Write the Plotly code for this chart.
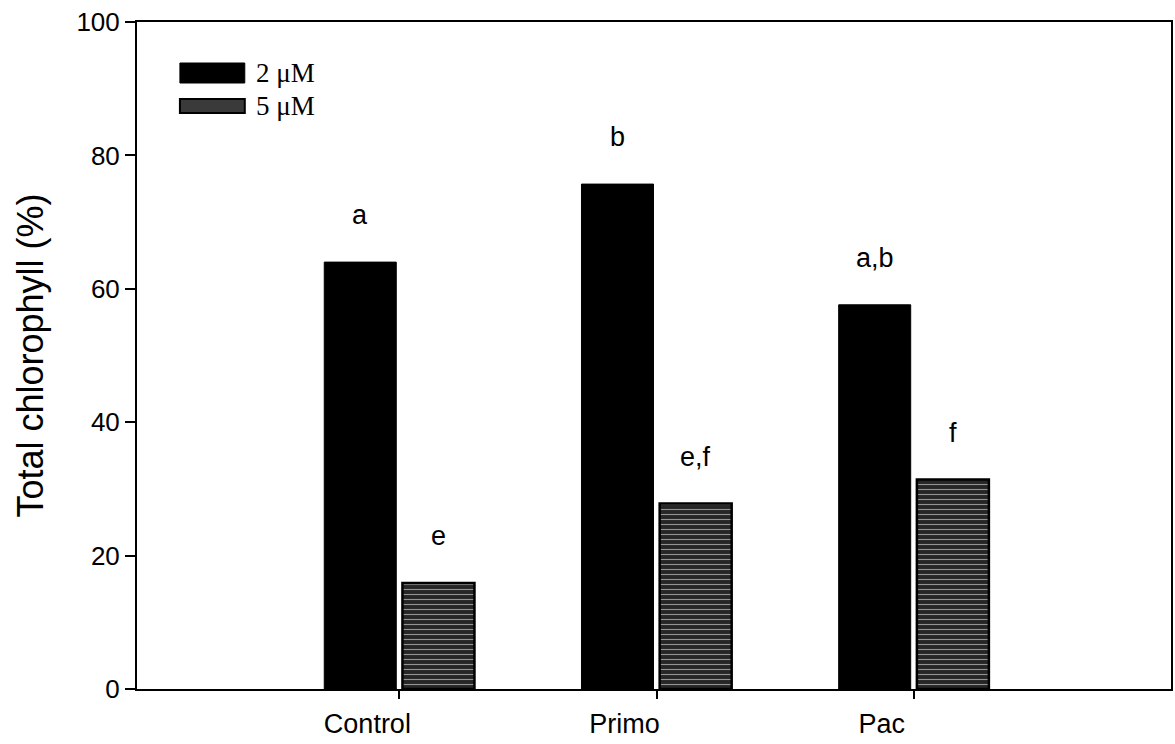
import plotly.graph_objects as go

categories = ["Control", "Primo", "Pac"]
cat_pos = [1, 2, 3]
series_names = ["2 \u03bcM", "5 \u03bcM"]
values_2uM = [64.0, 75.7, 57.6]
values_5uM = [15.9, 27.8, 31.4]
letters_2uM = ["a", "b", "a,b"]
letters_5uM = ["e", "e,f", "f"]
y_ticks = [0, 20, 40, 60, 80, 100]

W, H = 1175, 744
ML, MR, MT, MB = 137, 2, 22, 55
PW, PH = W - ML - MR, H - MT - MB


def px_x(px):
    return (px - ML) / PW


def px_y(py):
    return (H - MB - py) / PH


BAR_W = 0.28
GAP = 0.012
PATTERN = dict(shape="-", fgcolor="white", size=5, solidity=0.22, fillmode="overlay")

fig = go.Figure()
fig.add_trace(go.Bar(
    x=cat_pos, y=values_2uM, name=series_names[0],
    width=BAR_W, offset=-BAR_W - GAP,
    marker=dict(color="black", line=dict(color="black", width=1)),
))
fig.add_trace(go.Bar(
    x=cat_pos, y=values_5uM, name=series_names[1],
    width=BAR_W, offset=GAP,
    marker=dict(color="#262626", line=dict(color="black", width=2.5), pattern=PATTERN),
))

ann_font = dict(family="Liberation Sans, Arial, sans-serif", size=27, color="black")
for ys, labs, off in [(values_2uM, letters_2uM, -BAR_W / 2 - GAP),
                      (values_5uM, letters_5uM, BAR_W / 2 + GAP)]:
    for x, y, t in zip(cat_pos, ys, labs):
        fig.add_annotation(x=x + off, y=y, text=t, showarrow=False,
                           yanchor="bottom", yshift=30, font=ann_font)

# legend drawn as paper-space key
leg_font = dict(family="Liberation Serif, Times New Roman, serif", size=27, color="black")
leg_items = [
    (series_names[0], 63, 83, dict(fillcolor="black", line=dict(color="black", width=1))),
    (series_names[1], 99, 113, dict(fillcolor="#3a3a3a", line=dict(color="black", width=2))),
]
for name, top, bot, style in leg_items:
    fig.add_shape(type="rect", xref="paper", yref="paper",
                  x0=px_x(180), x1=px_x(245), y0=px_y(bot), y1=px_y(top), **style)
    fig.add_annotation(xref="paper", yref="paper", x=px_x(254), y=px_y((top + bot) / 2),
                       text=name, showarrow=False, xanchor="left", yanchor="middle",
                       font=leg_font)

axis_font = dict(family="Liberation Sans, Arial, sans-serif", size=26, color="black")
fig.update_layout(
    width=W, height=H,
    margin=dict(l=ML, r=MR, t=MT, b=MB),
    paper_bgcolor="white", plot_bgcolor="white",
    showlegend=False,
    xaxis=dict(range=[-0.02, 4.0], tickvals=cat_pos, ticktext=categories,
               showline=True, linecolor="black", linewidth=2, mirror=True,
               ticks="outside", ticklen=8, tickcolor="black", tickwidth=1.5,
               ticklabelshift=-32, ticklabelstandoff=2,
               showgrid=False, zeroline=False, tickfont=dict(axis_font, size=27)),
    yaxis=dict(range=[0, 100], tickvals=y_ticks,
               showline=True, linecolor="black", linewidth=2, mirror=True,
               ticks="outside", ticklen=10, tickcolor="black", tickwidth=1.5,
               showgrid=False, zeroline=False, tickfont=axis_font,
               title=dict(text="Total chlorophyll (%)", standoff=22,
                          font=dict(family="Liberation Sans, Arial, sans-serif", size=36, color="black"))),
)

fig.write_html("out.html")
